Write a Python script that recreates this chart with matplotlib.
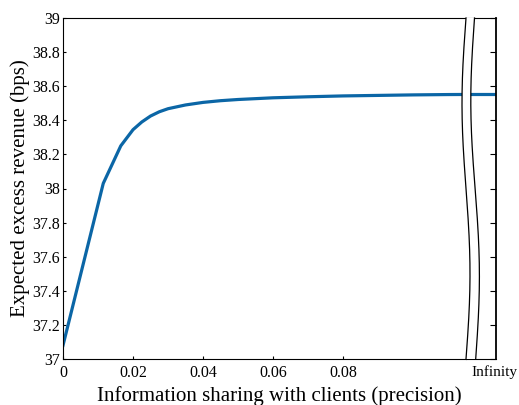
import matplotlib

matplotlib.use("Agg")
import matplotlib.pyplot as plt
import numpy as np
from matplotlib.lines import Line2D
from matplotlib.patches import Polygon

# Data
precision = [0.0, 0.0115, 0.0165, 0.02, 0.0225, 0.025, 0.0275, 0.03, 0.035,
             0.04, 0.045, 0.05, 0.06, 0.07, 0.08, 0.09, 0.10, 0.11, 0.12]
revenue = [37.08, 38.03, 38.25, 38.345, 38.39, 38.425, 38.45, 38.468, 38.49,
           38.505, 38.515, 38.522, 38.532, 38.538, 38.543, 38.546, 38.549,
           38.551, 38.552]
revenue_inf = 38.555
x_ticks = [0, 0.02, 0.04, 0.06, 0.08]
x_ticklabels = ["0", "0.02", "0.04", "0.06", "0.08"]
y_ticks = [37, 37.2, 37.4, 37.6, 37.8, 38, 38.2, 38.4, 38.6, 38.8, 39]
y_ticklabels = ["37", "37.2", "37.4", "37.6", "37.8", "38", "38.2", "38.4",
                "38.6", "38.8", "39"]

plt.rcParams["font.family"] = ["Liberation Serif", "DejaVu Serif"]
color = "#0b66a6"

W, H = 519, 405
fig = plt.figure(figsize=(W / 100, H / 100), dpi=100)


def px_rect(x0, y0, x1, y1):
    # pixel box (top-left origin) -> figure fraction rect
    return [x0 / W, 1 - y1 / H, (x1 - x0) / W, (y1 - y0) / H]


top, bottom = 18, 359
ax = fig.add_axes(px_rect(63, top, 466, bottom))
ax2 = fig.add_axes(px_rect(466, top, 496.5, bottom))

ax.plot(precision, revenue, color=color, linewidth=2.3)
ax.set_xlim(0, 0.1151)
ax.set_ylim(37, 39)
ax.set_xticks(x_ticks)
ax.set_xticklabels(x_ticklabels)
ax.set_yticks(y_ticks)
ax.set_yticklabels(y_ticklabels)
ax.tick_params(direction="in", length=2.5, width=0.8, labelsize=11.5)
ax.tick_params(axis="x", pad=4.5)
ax.tick_params(axis="y", pad=2)
ax.spines["right"].set_visible(False)
ax.set_ylabel("Expected excess revenue (bps)", fontsize=15, labelpad=1.5)

# x label is centred under both panels
fig.text(279.5 / W, 1 - 401 / H, "Information sharing with clients (precision)",
         fontsize=15, ha="center", va="baseline")

ax2.plot([0, 0.96], [revenue_inf, revenue_inf], color=color, linewidth=2.3)
ax2.set_xlim(0, 1)
ax2.set_ylim(37, 39)
ax2.set_xticks([0.92])
ax2.set_xticklabels(["Infinity"])
ax2.set_yticks(y_ticks)
ax2.yaxis.tick_right()
ax2.tick_params(axis="y", direction="in", length=4, labelright=False)
ax2.tick_params(axis="x", length=0, labelsize=11, pad=4.5)
ax2.spines["left"].set_visible(False)
ax2.spines["right"].set_linewidth(1.3)

# Axis break: two S-shaped curves with a white gap between them
t = np.linspace(0, 1, 200)
ys = top + t * (bottom - top)
xl = 466 - 4 * np.sin(2 * np.pi * t)
xr = 474.5 + 1.2 * t - 4 * np.sin(2 * np.pi * t)
ys_f = 1 - ys / H
fig.patches.append(Polygon(np.column_stack([np.r_[xl, xr[::-1]] / W,
                                            np.r_[ys_f, ys_f[::-1]]]),
                           closed=True, facecolor="white", edgecolor="none",
                           transform=fig.transFigure, zorder=5))
fig.lines.append(Line2D(xl / W, ys_f, color="black", linewidth=0.9,
                        transform=fig.transFigure, zorder=6))
fig.lines.append(Line2D(xr / W, ys_f, color="black", linewidth=0.9,
                        transform=fig.transFigure, zorder=6))

fig.savefig("out.png", dpi=100)
